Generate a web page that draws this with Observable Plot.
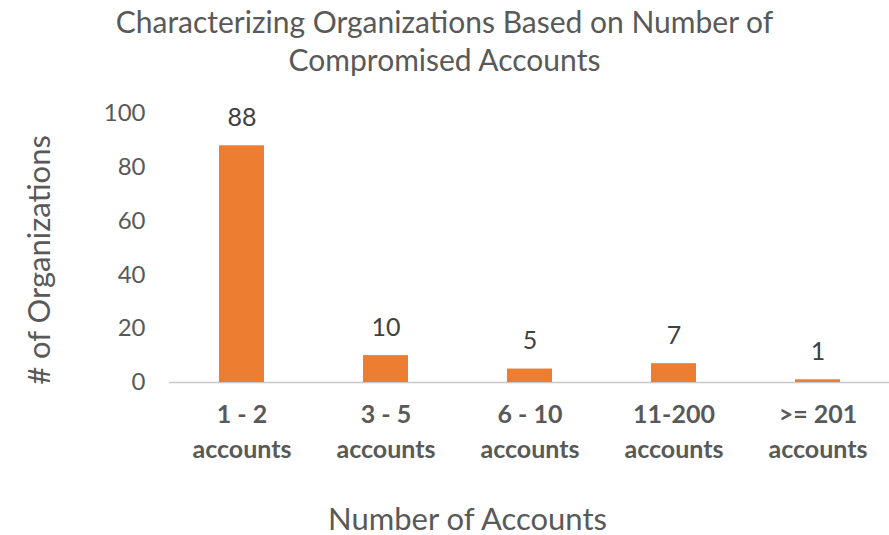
<!DOCTYPE html>
<html>
<head>
<meta charset="utf-8">
<script src="https://cdn.jsdelivr.net/npm/d3@7"></script>
<script src="https://cdn.jsdelivr.net/npm/@observablehq/plot@0.6"></script>
<style>
  html, body { margin: 0; padding: 0; background: #fff; }
  #title { width: 889px; height: 82px; text-align: center; font-family: Lato, "Open Sans", sans-serif; font-size: 30px; line-height: 38px; color: #595959; padding-top: 2px; box-sizing: border-box; }
</style>
</head>
<body>
<div id="title">Characterizing Organizations Based on Number of<br>Compromised Accounts</div>
<div id="chart"></div>
<script>
const categories = ["1 - 2\naccounts", "3 - 5\naccounts", "6 - 10\naccounts", "11-200\naccounts", ">= 201\naccounts"];
const values = [88, 10, 5, 7, 1];
const yTicks = [0, 20, 40, 60, 80, 100];
const xTitle = "Number of Accounts";
const yTitle = "# of Organizations";

const data = categories.map((c, i) => ({category: c, value: values[i]}));

const chart = Plot.plot({
  width: 889,
  height: 453,
  marginLeft: 169,
  marginRight: 0,
  marginTop: 31,
  marginBottom: 153,
  style: {fontFamily: "Lato, 'Open Sans', sans-serif", color: "#595959", background: "#fff"},
  x: {domain: categories, paddingInner: 0.69, paddingOuter: 0.345},
  y: {domain: [0, 100]},
  marks: [
    Plot.ruleY(yTicks, {x1: 168, x2: 885, stroke: "#d9d9d9", strokeWidth: 1.5, x: null}),
    Plot.ruleY([0], {stroke: "#c8c8c8", strokeWidth: 1.5}),
    Plot.barY(data, {x: "category", y: "value", fill: "#ED7D31"}),
    Plot.text(data, {x: "category", y: "value", text: d => String(d.value), dy: -28, fontSize: 25, fill: "#404040"}),
    Plot.axisY({ticks: yTicks, tickSize: 0, tickPadding: 24, fontSize: 24, label: null}),
    Plot.axisX({tickSize: 0, tickPadding: 16, fontSize: 25, fontWeight: "bold", lineHeight: 1.4, label: null}),
    Plot.text([xTitle], {frameAnchor: "bottom", text: d => d, dx: -62, dy: 147, fontSize: 31, fill: "#595959"}),
    Plot.text([yTitle], {frameAnchor: "left", textAnchor: "middle", lineAnchor: "middle", text: d => d, rotate: -90, dx: -129, dy: 12, fontSize: 31, fill: "#595959"})
  ]
});
document.getElementById("chart").appendChild(chart);
</script>
</body>
</html>
